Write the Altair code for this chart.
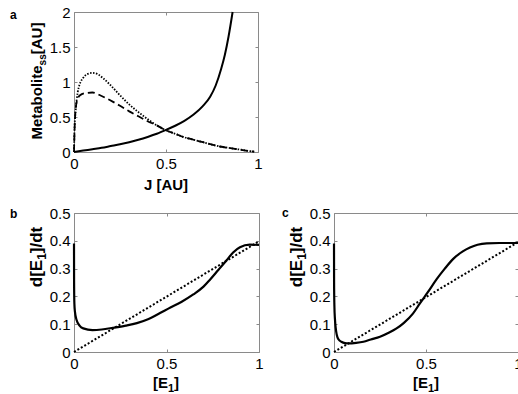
import altair as alt
import pandas as pd

W, H = 518, 394

# ---------------- data ----------------
# Panel a: steady-state metabolite vs J
a_solid_J = [0, 0.05, 0.1, 0.15, 0.2, 0.25, 0.3, 0.35, 0.4, 0.45, 0.5, 0.55, 0.6, 0.65, 0.7, 0.74, 0.77, 0.8, 0.82, 0.84, 0.862]
a_solid_v = [0, 0.02, 0.04, 0.06, 0.085, 0.11, 0.14, 0.175, 0.215, 0.26, 0.315, 0.375, 0.445, 0.535, 0.655, 0.79, 0.95, 1.19, 1.39, 1.65, 2.0]

a_dot_J = [0, 0.003, 0.01, 0.02, 0.03, 0.05, 0.07, 0.1, 0.13, 0.16, 0.2, 0.25, 0.3, 0.35, 0.4, 0.45, 0.5, 0.55, 0.6, 0.65, 0.7, 0.75, 0.8, 0.85, 0.9, 0.95, 0.98]
a_dot_v = [0, 0.35, 0.62, 0.85, 0.96, 1.06, 1.11, 1.13, 1.11, 1.05, 0.95, 0.81, 0.68, 0.57, 0.47, 0.38, 0.31, 0.26, 0.21, 0.175, 0.14, 0.105, 0.075, 0.055, 0.035, 0.015, 0.005]

a_dash_J = [0, 0.005, 0.015, 0.033, 0.06, 0.1, 0.15, 0.21, 0.25, 0.3, 0.35, 0.4, 0.45, 0.5, 0.55, 0.6, 0.65, 0.7, 0.75, 0.8, 0.85, 0.9, 0.95, 0.98]
a_dash_v = [0, 0.45, 0.72, 0.81, 0.84, 0.85, 0.8, 0.72, 0.66, 0.58, 0.51, 0.44, 0.38, 0.31, 0.26, 0.21, 0.175, 0.14, 0.105, 0.075, 0.055, 0.035, 0.015, 0.005]

# Panel b: d[E1]/dt vs [E1]
b_solid_E = [0, 0.0005, 0.002, 0.005, 0.014, 0.03, 0.05, 0.1, 0.15, 0.21, 0.28, 0.34, 0.4, 0.465, 0.51, 0.58, 0.645, 0.7, 0.735, 0.78, 0.825, 0.86, 0.897, 0.95, 1.0]
b_solid_v = [0.39, 0.25, 0.175, 0.145, 0.115, 0.095, 0.085, 0.079, 0.081, 0.087, 0.095, 0.104, 0.118, 0.14, 0.156, 0.18, 0.207, 0.235, 0.26, 0.295, 0.33, 0.358, 0.377, 0.386, 0.385]
b_dot_E = [0, 1.0]
b_dot_v = [0, 0.398]

# Panel c
c_solid_E = [0, 0.0005, 0.002, 0.005, 0.015, 0.025, 0.04, 0.06, 0.08, 0.12, 0.16, 0.2, 0.25, 0.3, 0.34, 0.38, 0.43, 0.467, 0.51, 0.558, 0.6, 0.648, 0.7, 0.739, 0.78, 0.83, 0.9, 1.0]
c_solid_v = [0.39, 0.25, 0.17, 0.12, 0.062, 0.045, 0.037, 0.032, 0.031, 0.033, 0.037, 0.045, 0.055, 0.07, 0.085, 0.105, 0.139, 0.175, 0.215, 0.262, 0.298, 0.335, 0.362, 0.376, 0.386, 0.391, 0.392, 0.392]
c_dot_E = [0, 1.0]
c_dot_v = [0, 0.395]

a_xticks = [0, 0.5, 1]
a_yticks = [0, 0.5, 1, 1.5, 2]
bc_xticks = [0, 0.5, 1]
bc_yticks = [0, 0.1, 0.2, 0.3, 0.4, 0.5]

FONT = "Liberation Sans"
BOX = "#8a8a8a"

# panel plot rectangles in pixels: (x0, x1, ybottom, ytop)
PA = (74, 258, 152, 12)
PB = (74, 259, 352, 213)
PC = (334, 518, 352, 213)


def df(xs, ys):
    return pd.DataFrame({"x": xs, "y": ys, "i": list(range(len(xs)))})


def axes(kind, P, xt, yt):
    x0, x1, yb, yt_ = P
    common = dict(title=None, grid=False, domainColor=BOX, tickColor=BOX,
                  labelFont=FONT, labelFontSize=15, labelColor="black",
                  labelFlush=False, labelOverlap=False, format="~g")
    if kind == "main":
        ax = alt.Axis(orient="bottom", offset=yb - H, values=xt, ticks=False,
                      labelPadding=4, domain=True, **common)
        ay = alt.Axis(orient="left", offset=-x0, values=yt, ticks=False,
                      labelPadding=4, domain=True, **common)
    elif kind == "box":
        ax = alt.Axis(orient="bottom", offset=yt_ - H, values=xt, labels=False,
                      ticks=True, tickSize=3, domain=True, **common)
        ay = alt.Axis(orient="left", offset=-x1, values=yt, labels=False,
                      ticks=True, tickSize=3, domain=True, **common)
    else:  # inward ticks on bottom/left edges
        ax = alt.Axis(orient="top", offset=-yb, values=xt, labels=False,
                      ticks=True, tickSize=3, domain=False, **common)
        ay = alt.Axis(orient="right", offset=x0 - W, values=yt, labels=False,
                      ticks=True, tickSize=3, domain=False, **common)
    return ax, ay


def line(data, P, xdom, ydom, kind, xt, yt, width=2.0, dash=None, opacity=1.0, interp="linear"):
    x0, x1, yb, yt_ = P
    ax, ay = axes(kind, P, xt, yt)
    mk = dict(color="black", strokeWidth=width, opacity=opacity, clip=False, interpolate=interp)
    if dash is not None:
        mk["strokeDash"] = dash
    return alt.Chart(data).mark_line(**mk).encode(
        x=alt.X("x:Q", scale=alt.Scale(domain=xdom, range=[x0, x1], nice=False, zero=False), axis=ax),
        y=alt.Y("y:Q", scale=alt.Scale(domain=ydom, range=[yb, yt_], nice=False, zero=False), axis=ay),
        order="i:Q",
    )


def text(t, x, y, size=15, bold=True, angle=0, align="left"):
    kw = dict(text=t, font=FONT, fontSize=size, fontWeight="bold" if bold else "normal",
              color="black", align=align, baseline="alphabetic")
    if angle:
        kw["angle"] = angle
    return alt.Chart(pd.DataFrame({"k": [0]})).mark_text(**kw).encode(
        x=alt.value(x), y=alt.value(y))


# approximate Liberation Sans Bold advance widths (em)
ADV = {"M": .833, "e": .556, "t": .333, "a": .556, "b": .611, "o": .611, "l": .278,
       "i": .278, " ": .278, "[": .333, "A": .722, "U": .722, "]": .333, "d": .611,
       "E": .667, "1": .556, "/": .278, "J": .556, "s": .556}


def wid(s, size):
    return sum(ADV.get(c, .556) for c in s) * size


def rich_vertical(pieces, xbase, ycenter):
    """pieces: list of (text, size, baseline_shift); drawn bottom-to-top."""
    total = sum(wid(t, s) for t, s, _ in pieces)
    y = ycenter + total / 2
    out = []
    for t, s, sh in pieces:
        out.append(text(t, xbase + sh, y, size=s, angle=270))
        y -= wid(t, s)
    return out


def rich_horizontal(pieces, xcenter, ybase):
    total = sum(wid(t, s) for t, s, _ in pieces)
    x = xcenter - total / 2
    out = []
    for t, s, sh in pieces:
        out.append(text(t, x, ybase + sh, size=s))
        x += wid(t, s)
    return out


F, f = 15, 10
layers = []

# panel a
layers.append(line(df(a_dash_J, a_dash_v), PA, [0, 1], [0, 2], "inward", a_xticks, a_yticks, width=1.8, dash=[7, 4], interp="monotone"))
layers.append(line(df(a_dot_J, a_dot_v), PA, [0, 1], [0, 2], "box", a_xticks, a_yticks, width=1.8, dash=[1.5, 1.5], interp="monotone"))
layers.append(line(df(a_solid_J, a_solid_v), PA, [0, 1], [0, 2], "main", a_xticks, a_yticks, width=2.0, interp="monotone"))

# panel b
layers.append(line(df(b_dot_E, b_dot_v), PB, [0, 1], [0, 0.5], "box", bc_xticks, bc_yticks, width=2.0, dash=[2, 2]))
layers.append(line(df(b_dot_E, b_dot_v), PB, [0, 1], [0, 0.5], "inward", bc_xticks, bc_yticks, width=0.1, opacity=0))
layers.append(line(df(b_solid_E, b_solid_v), PB, [0, 1], [0, 0.5], "main", bc_xticks, bc_yticks, width=2.2, interp="monotone"))

# panel c
layers.append(line(df(c_dot_E, c_dot_v), PC, [0, 1], [0, 0.5], "box", bc_xticks, bc_yticks, width=2.0, dash=[2, 2]))
layers.append(line(df(c_dot_E, c_dot_v), PC, [0, 1], [0, 0.5], "inward", bc_xticks, bc_yticks, width=0.1, opacity=0))
layers.append(line(df(c_solid_E, c_solid_v), PC, [0, 1], [0, 0.5], "main", bc_xticks, bc_yticks, width=2.2, interp="monotone"))

# titles
layers += rich_vertical([("Metabolite", F, 0), ("ss", f, 4), (" [AU]", F, 0)], 42, 79)
layers += rich_horizontal([("J [AU]", F, 0)], 166, 190)
layers += rich_vertical([("d[E", 17, 0), ("1", 12, 4), ("]/dt", 17, 0)], 42, 257)
layers += rich_horizontal([("[E", F, 0), ("1", f + 1, 4), ("]", F, 0)], 166, 388)
layers += rich_vertical([("d[E", 17, 0), ("1", 12, 4), ("]/dt", 17, 0)], 302, 257)
layers += rich_horizontal([("[E", F, 0), ("1", f + 1, 4), ("]", F, 0)], 426, 388)

# panel letters
layers.append(text("a", 10, 19, size=12))
layers.append(text("b", 10, 218, size=12))
layers.append(text("c", 282, 217, size=12))

chart = alt.layer(*layers).resolve_scale(
    x="independent", y="independent"
).resolve_axis(
    x="independent", y="independent"
).properties(
    width=W, height=H, padding=0,
    autosize=alt.AutoSizeParams(type="none"),
    background="white",
).configure_view(stroke=None)

chart.save("out.html", embed_options={"renderer": "svg", "actions": False})
